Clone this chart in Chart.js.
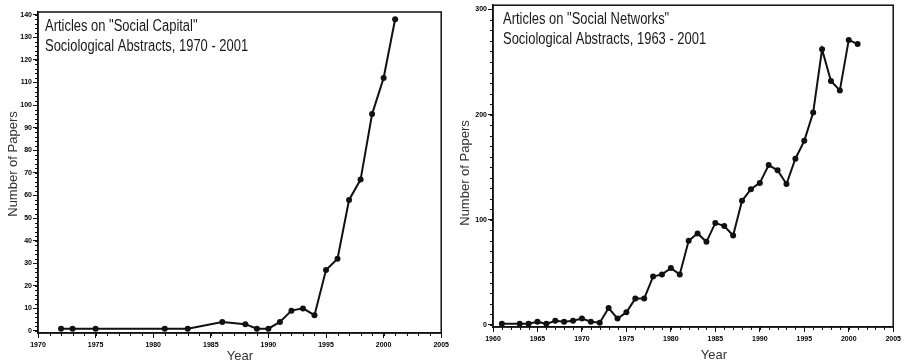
<!DOCTYPE html>
<html>
<head>
<meta charset="utf-8">
<script src="https://cdn.jsdelivr.net/npm/chart.js@4.4.1/dist/chart.umd.min.js"></script>
<style>
  body { margin: 0; background: #fff; }
  .panel { position: absolute; top: 0; width: 452px; height: 362px; }
</style>
</head>
<body>
<div class="panel" style="left:0"><canvas id="capitalChart" width="452" height="362"></canvas></div>
<div class="panel" style="left:452px"><canvas id="networkChart" width="452" height="362"></canvas></div>
<script>
// Social Capital, Sociological Abstracts 1970 - 2001
const capitalYears = [1972, 1973, 1975, 1981, 1983, 1986, 1988, 1989, 1990, 1991, 1992, 1993, 1994, 1995, 1996, 1997, 1998, 1999, 2000, 2001];
const capitalCounts = [1, 1, 1, 1, 1, 4, 3, 1, 1, 4, 9, 10, 7, 27, 32, 58, 67, 96, 112, 138];
const capitalXTicks = [1970, 1975, 1980, 1985, 1990, 1995, 2000, 2005];
const capitalYTicks = [0, 10, 20, 30, 40, 50, 60, 70, 80, 90, 100, 110, 120, 130, 140];
const capitalTitle = ['Articles on "Social Capital"', 'Sociological Abstracts, 1970 - 2001'];

// Social Networks, Sociological Abstracts 1963 - 2001
const networkYears = [1961, 1963, 1964, 1965, 1966, 1967, 1968, 1969, 1970, 1971, 1972, 1973, 1974, 1975, 1976, 1977, 1978, 1979, 1980, 1981,
    1982, 1983, 1984, 1985, 1986, 1987, 1988, 1989, 1990, 1991, 1992, 1993, 1994, 1995, 1996, 1997, 1998, 1999, 2000, 2001];
const networkCounts = [1, 1, 1, 3, 1, 4, 3, 4, 6, 3, 2, 16, 6, 12, 25, 25, 46, 48, 54, 48,
    80, 87, 79, 97, 94, 85, 118, 129, 135, 152, 147, 134, 158, 175, 202, 262, 232, 223, 271, 267];
const networkXTicks = [1960, 1965, 1970, 1975, 1980, 1985, 1990, 1995, 2000, 2005];
const networkYTicks = [0, 100, 200, 300];
const networkTitle = ['Articles on "Social Networks"', 'Sociological Abstracts, 1963 - 2001'];

const tickFont = { family: '"Liberation Sans", Arial, sans-serif', size: 7, weight: 'bold' };

// box around the plot, minor ticks, title text and axis titles
const framePlugin = {
    id: 'frame',
    afterDraw(chart, args, opts) {
        const ctx = chart.ctx;
        const a = chart.chartArea;
        const xs = chart.scales.x;
        const ys = chart.scales.y;
        ctx.save();

        ctx.strokeStyle = '#111';
        ctx.lineWidth = 1.5;
        ctx.strokeRect(a.left, a.top, a.right - a.left, a.bottom - a.top);

        // minor ticks
        ctx.lineWidth = 1;
        ctx.beginPath();
        for (let v = opts.xMinor[0]; v <= opts.xMinor[1]; v += opts.xMinor[2]) {
            const px = Math.round(xs.getPixelForValue(v)) + 0.5;
            ctx.moveTo(px, a.bottom);
            ctx.lineTo(px, a.bottom + 3);
        }
        for (let v = opts.yMinor[0]; v <= opts.yMinor[1]; v += opts.yMinor[2]) {
            const py = Math.round(ys.getPixelForValue(v)) + 0.5;
            ctx.moveTo(a.left, py);
            ctx.lineTo(a.left - 3, py);
        }
        ctx.stroke();

        // title inside the plot (narrow face)
        ctx.fillStyle = '#1a1a1a';
        ctx.font = '16px "Liberation Sans", Arial, sans-serif';
        ctx.textBaseline = 'alphabetic';
        opts.title.forEach((line, i) => {
            ctx.save();
            ctx.translate(a.left + opts.titleX, a.top + 19 + i * 20);
            ctx.scale(0.81, 1);
            ctx.fillText(line, 0, 0);
            ctx.restore();
        });

        // axis titles
        ctx.fillStyle = '#333';
        ctx.font = '13px "Liberation Sans", Arial, sans-serif';
        ctx.textAlign = 'center';
        ctx.fillText('Year', opts.xTitle[0], opts.xTitle[1]);
        ctx.save();
        ctx.translate(opts.yTitle[0], opts.yTitle[1]);
        ctx.rotate(-Math.PI / 2);
        ctx.fillText('Number of Papers', 0, 0);
        ctx.restore();

        ctx.restore();
    }
};

function makeChart(canvasId, years, counts, xTicks, yTicks, box, frame) {
    const points = years.map((y, i) => ({ x: y, y: counts[i] }));
    return new Chart(document.getElementById(canvasId), {
        type: 'line',
        data: {
            datasets: [{
                data: points,
                borderColor: '#111',
                backgroundColor: '#111',
                borderWidth: 2,
                pointRadius: 3,
                pointBorderWidth: 0,
                tension: 0
            }]
        },
        options: {
            responsive: false,
            animation: false,
            events: [],
            layout: { padding: { left: 0, right: box.right, top: box.top, bottom: 0 } },
            plugins: {
                legend: { display: false },
                tooltip: { enabled: false },
                frame: frame
            },
            scales: {
                x: {
                    type: 'linear',
                    min: box.xMin,
                    max: box.xMax,
                    afterBuildTicks: scale => { scale.ticks = xTicks.map(v => ({ value: v })); },
                    afterFit: scale => { scale.height = box.xHeight; },
                    border: { display: true, color: '#111', width: 1.5 },
                    grid: { drawOnChartArea: false, drawTicks: true, tickLength: 5, color: '#111' },
                    ticks: { font: tickFont, color: '#000', padding: 3, maxRotation: 0, autoSkip: false,
                        callback: v => String(v) }
                },
                y: {
                    min: box.yMin,
                    max: box.yMax,
                    afterBuildTicks: scale => { scale.ticks = yTicks.map(v => ({ value: v })); },
                    afterFit: scale => { scale.width = box.yWidth; },
                    border: { display: true, color: '#111', width: 1.5 },
                    grid: { drawOnChartArea: false, drawTicks: true, tickLength: 5, color: '#111' },
                    ticks: { font: tickFont, color: '#000', padding: 1, autoSkip: false,
                        callback: v => String(v) }
                }
            }
        },
        plugins: [framePlugin]
    });
}

makeChart('capitalChart', capitalYears, capitalCounts, capitalXTicks, capitalYTicks,
    { right: 9, top: 12, xHeight: 29, yWidth: 38, xMin: 1970, xMax: 2005, yMin: -0.9, yMax: 141.2 },
    { title: capitalTitle, titleX: 7, xMinor: [1970, 2005, 1], yMinor: [0, 140, 2], xTitle: [240, 360], yTitle: [17, 164] });

makeChart('networkChart', networkYears, networkCounts, networkXTicks, networkYTicks,
    { right: 7, top: 5, xHeight: 35, yWidth: 41, xMin: 1960, xMax: 2005, yMin: -2, yMax: 304 },
    { title: networkTitle, titleX: 10, xMinor: [1960, 2005, 1], yMinor: [0, 300, 10], xTitle: [262, 359], yTitle: [17, 173] });
</script>
</body>
</html>
